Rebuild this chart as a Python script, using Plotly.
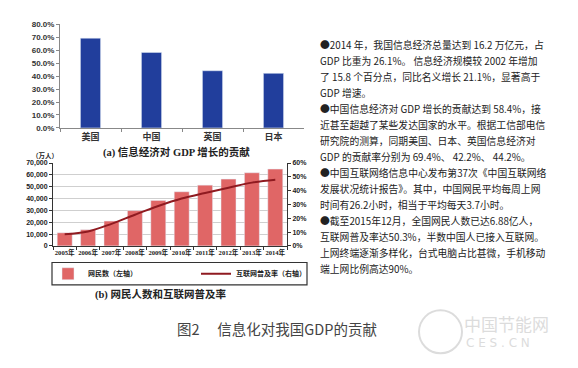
import plotly.graph_objects as go

W, H = 578, 368

# ---- data ----
countries = ["美国", "中国", "英国", "日本"]
contrib = [0.694, 0.584, 0.442, 0.422]

years = ["2005年", "2006年", "2007年", "2008年", "2009年",
         "2010年", "2011年", "2012年", "2013年", "2014年"]
netizens = [11100, 13700, 21000, 29800, 38400, 45730, 51310, 56400, 61758, 64875]
penetration = [0.085, 0.105, 0.160, 0.226, 0.289, 0.343, 0.383, 0.421, 0.458, 0.479]

text_lines = [
    "●2014 年，我国信息经济总量达到 16.2 万亿元，占",
    "GDP 比重为 26.1%。 信息经济规模较 2002 年增加",
    "了 15.8 个百分点，同比名义增长 21.1%，显著高于",
    "GDP 增速。",
    "●中国信息经济对 GDP 增长的贡献达到 58.4%，接",
    "近甚至超越了某些发达国家的水平。根据工信部电信",
    "研究院的测算，同期美国、日本、英国信息经济对",
    "GDP 的贡献率分别为 69.4%、 42.2%、 44.2%。",
    "●中国互联网络信息中心发布第37次《中国互联网络",
    "发展状况统计报告》。其中，中国网民平均每周上网",
    "时间有26.2小时，相当于平均每天3.7小时。",
    "●截至2015年12月，全国网民人数已达6.88亿人，",
    "互联网普及率达50.3%，半数中国人已接入互联网。",
    "上网终端逐渐多样化，台式电脑占比甚微，手机移动",
    "端上网比例高达90%。",
]

FONT = "Noto Sans CJK SC"
SERIF = "Liberation Serif, Noto Sans CJK SC"


def px(x):
    return x / W


def py(y):
    return 1 - y / H


fig = go.Figure()

fig.add_trace(go.Bar(x=countries, y=contrib, marker_color="#213e9c", width=0.33,
                     xaxis="x", yaxis="y", showlegend=False))
fig.add_trace(go.Bar(x=years, y=netizens, marker_color="#e06666", width=0.64,
                     name="网民数（左轴）", xaxis="x2", yaxis="y2"))
fig.add_trace(go.Scatter(x=years, y=penetration, mode="lines",
                         line=dict(color="#8f1a20", width=2, shape="spline"),
                         name="互联网普及率（右轴）", xaxis="x2", yaxis="y3"))

axis_font = dict(family="Liberation Sans, " + FONT, size=8, color="#333", weight="bold")
small_font = dict(family="Liberation Sans, " + FONT, size=7, color="#222", weight="bold")

fig.update_layout(
    width=W, height=H,
    margin=dict(l=0, r=0, t=0, b=0),
    paper_bgcolor="white", plot_bgcolor="rgba(0,0,0,0)",
    font=dict(family=FONT, color="#222"),
    xaxis=dict(domain=[px(60), px(304)], anchor="y", type="category",
               showline=True, linecolor="#888", ticks="outside", tickson="boundaries",
               ticklen=3, tickcolor="#888", tickangle=0,
               tickfont=dict(family=FONT, size=9, color="#333", weight="bold")),
    yaxis=dict(domain=[py(127), py(21)], anchor="x", range=[0, 0.8], dtick=0.1,
               tickformat=".1%", showline=True, linecolor="#888", ticks="outside",
               ticklen=3, tickcolor="#888", showgrid=False, zeroline=False,
               tickfont=axis_font),
    xaxis2=dict(domain=[px(53), px(287)], anchor="y2", type="category",
                showline=True, linecolor="#333", ticks="outside", tickson="boundaries",
                ticklen=3, tickcolor="#333", tickangle=0,
                tickfont=dict(family=SERIF, size=6.6, color="#222", weight="bold")),
    yaxis2=dict(domain=[py(248), py(163)], anchor="x2", range=[0, 70000], dtick=10000,
                tickformat=",", showline=True, linecolor="#333", ticks="outside",
                ticklen=3, tickcolor="#333", showgrid=True, gridcolor="#cfcfcf",
                zeroline=False, tickfont=small_font),
    yaxis3=dict(overlaying="y2", anchor="x2", side="right", range=[0, 0.6], dtick=0.1,
                tickformat=".0%", showline=True, linecolor="#333", ticks="outside",
                ticklen=3, tickcolor="#333", showgrid=False, zeroline=False,
                tickfont=small_font),
    legend=dict(orientation="h", x=px(48), y=py(276.5), xanchor="left", yanchor="middle",
                borderwidth=0, bgcolor="rgba(0,0,0,0)",
                entrywidth=103, entrywidthmode="pixels", itemwidth=30,
                font=dict(family=FONT, size=7, color="#222", weight="bold")),
)

ann = []
ann.append(dict(text="<b>(a) 信息经济对 GDP 增长的贡献</b>", x=px(177), y=py(152),
                font=dict(family=SERIF, size=10.5, color="#222")))
ann.append(dict(text="<b>(b) 网民人数和互联网普及率</b>", x=px(160), y=py(298),
                font=dict(family=SERIF, size=10.5, color="#222")))
ann.append(dict(text="<b>（万人）</b>", x=px(45), y=py(155),
                font=dict(family=FONT, size=6.5, color="#222")))
for i, t in enumerate(text_lines):
    ann.append(dict(text=t, x=px(318), y=py(42 + i * 16.4), xanchor="left",
                    font=dict(family=FONT, size=9.8, color="#222")))
ann.append(dict(text="图2　 信息化对我国GDP的贡献", x=px(175), y=py(333), xanchor="left",
                font=dict(family=FONT, size=14.5, color="#444")))
ann.append(dict(text="中国节能网", x=px(462), y=py(327), xanchor="left",
                font=dict(family=FONT, size=17, color="#dcdcdc")))
ann.append(dict(text="C E S . C N", x=px(464), y=py(348), xanchor="left",
                font=dict(family="DejaVu Sans", size=12, color="#dcdcdc")))
for a in ann:
    a.update(xref="paper", yref="paper", showarrow=False,
             yanchor=a.get("yanchor", "middle"), xanchor=a.get("xanchor", "center"))
fig.update_layout(annotations=ann)

fig.add_shape(type="rect", xref="paper", yref="paper",
              x0=px(52), x1=px(307), y0=py(288), y1=py(265),
              line=dict(color="#333", width=1.2), layer="below")
fig.add_shape(type="circle", xref="paper", yref="paper",
              x0=px(419), x1=px(462), y0=py(358), y1=py(314),
              line=dict(color="#dcdcdc", width=2))

fig.write_html("out.html", config={"displayModeBar": False},
               post_script="document.body.style.margin='0';")
